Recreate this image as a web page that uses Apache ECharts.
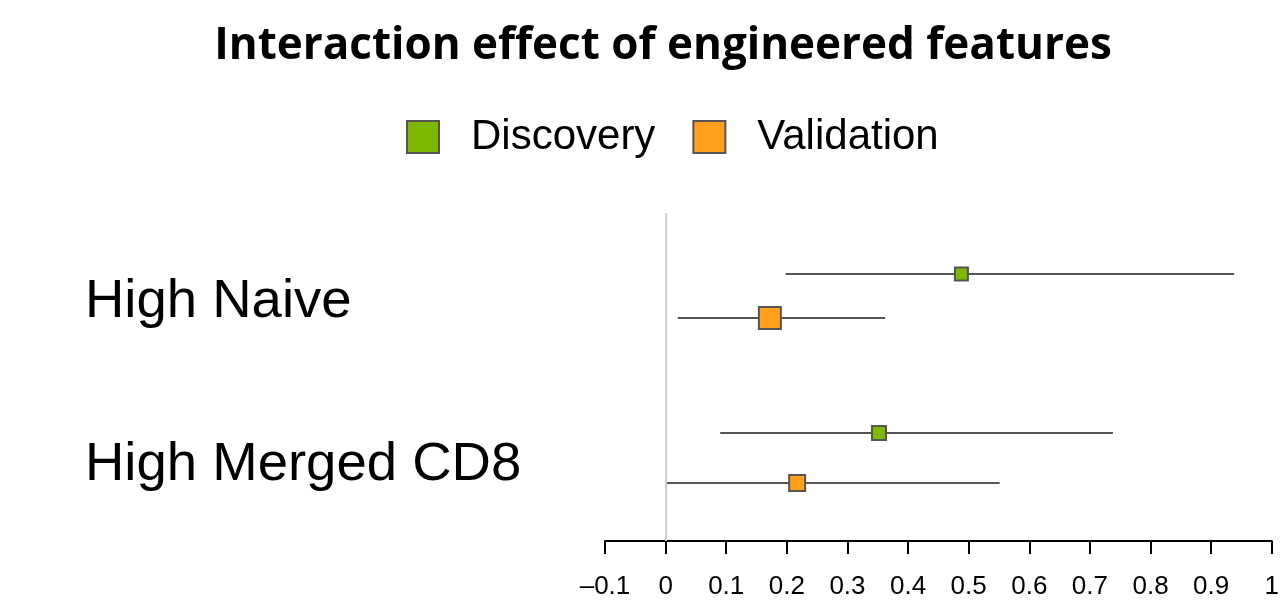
<!DOCTYPE html>
<html>
<head>
<meta charset="utf-8">
<script src="https://cdn.jsdelivr.net/npm/echarts@6/dist/echarts.min.js"></script>
<style>
html, body { margin: 0; padding: 0; background: #fff; }
#chart { width: 1282px; height: 609px; }
</style>
</head>
<body>
<div id="chart"></div>
<script>
// groups and their label rows (y axis units, top = 0)
var groups = ['High Naive', 'High Merged CD8'];
var groupRow = [8.9, 25.2];

// Discovery cohort
var discEst = [0.488, 0.352];
var discLow = [0.198, 0.090];
var discHigh = [0.938, 0.738];
var discRow = [6.1, 22.0];
var discWeight = [1.3, 1.4];

// Validation cohort
var valEst = [0.172, 0.217];
var valLow = [0.020, 0.000];
var valHigh = [0.362, 0.551];
var valRow = [10.5, 27.0];
var valWeight = [2.2, 1.6];

function points(est, row, w) {
    return est.map(function (v, i) { return [v, row[i], w[i]]; });
}
function ciData(lo, hi, row) {
    return lo.map(function (v, i) { return [v, hi[i], row[i]]; });
}
function ciSeries(lo, hi, row) {
    return {
        type: 'custom',
        silent: true,
        z: 1,
        data: ciData(lo, hi, row),
        encode: { x: [0, 1], y: 2 },
        renderItem: function (params, api) {
            var a = api.coord([api.value(0), api.value(2)]);
            var b = api.coord([api.value(1), api.value(2)]);
            return {
                type: 'line',
                shape: { x1: a[0], y1: a[1], x2: b[0], y2: b[1] },
                style: { stroke: '#555', lineWidth: 2.2 }
            };
        }
    };
}

var myChart = echarts.init(document.getElementById('chart'));
var option = {
    animation: false,
    backgroundColor: '#fff',
    title: {
        text: 'Interaction effect of engineered features',
        left: 658,
        top: 19,
        textAlign: 'center',
        textStyle: {
            fontFamily: 'Open Sans',
            fontWeight: 'bold',
            fontSize: 44,
            color: '#000'
        }
    },
    legend: {
        left: 401,
        top: 111,
        itemWidth: 32,
        itemHeight: 32,
        itemGap: 37,
        icon: 'rect',
        data: ['Discovery', 'Validation'],
        textStyle: {
            fontFamily: 'Liberation Sans',
            fontSize: 42,
            color: '#000',
            padding: [0, 0, 0, 27]
        }
    },
    grid: { left: 605, right: 7, top: 213, bottom: 68 },
    xAxis: {
        type: 'value',
        min: -0.1,
        max: 1,
        interval: 0.1,
        splitLine: { show: false },
        axisLine: { show: true, onZero: false, lineStyle: { color: '#000', width: 2 } },
        axisTick: { show: true, length: 13, lineStyle: { color: '#000', width: 2 } },
        axisLabel: {
            margin: 33,
            fontFamily: 'Liberation Sans',
            fontSize: 26,
            color: '#000',
            showMinLabel: true,
            showMaxLabel: true,
            formatter: function (v) {
                var r = Math.round(v * 10) / 10;
                return r < 0 ? '\u2013' + Math.abs(r) : String(r);
            }
        }
    },
    yAxis: {
        type: 'value',
        min: 0,
        max: 32.8,
        inverse: true,
        splitLine: { show: false },
        axisLine: { show: false },
        axisTick: { show: false },
        axisLabel: {
            show: true,
            customValues: groupRow,
            align: 'left',
            margin: 520,
            fontFamily: 'Liberation Sans',
            fontSize: 54.5,
            color: '#000',
            formatter: function (v) {
                var i = groupRow.indexOf(v);
                return i >= 0 ? groups[i] : '';
            }
        }
    },
    series: [
        ciSeries(discLow, discHigh, discRow),
        ciSeries(valLow, valHigh, valRow),
        {
            name: 'Discovery',
            type: 'scatter',
            z: 3,
            symbol: 'rect',
            symbolSize: function (v) { return v[2] * 10; },
            itemStyle: { color: '#7fb800', borderColor: '#555', borderWidth: 2, opacity: 1 },
            data: points(discEst, discRow, discWeight),
            markLine: {
                silent: true,
                symbol: 'none',
                label: { show: false },
                lineStyle: { color: '#cfcfcf', width: 2, type: 'solid' },
                data: [{ xAxis: 0 }]
            }
        },
        {
            name: 'Validation',
            type: 'scatter',
            z: 3,
            symbol: 'rect',
            symbolSize: function (v) { return v[2] * 10; },
            itemStyle: { color: '#ff9f1c', borderColor: '#555', borderWidth: 2, opacity: 1 },
            data: points(valEst, valRow, valWeight)
        }
    ]
};
myChart.setOption(option);
</script>
</body>
</html>
